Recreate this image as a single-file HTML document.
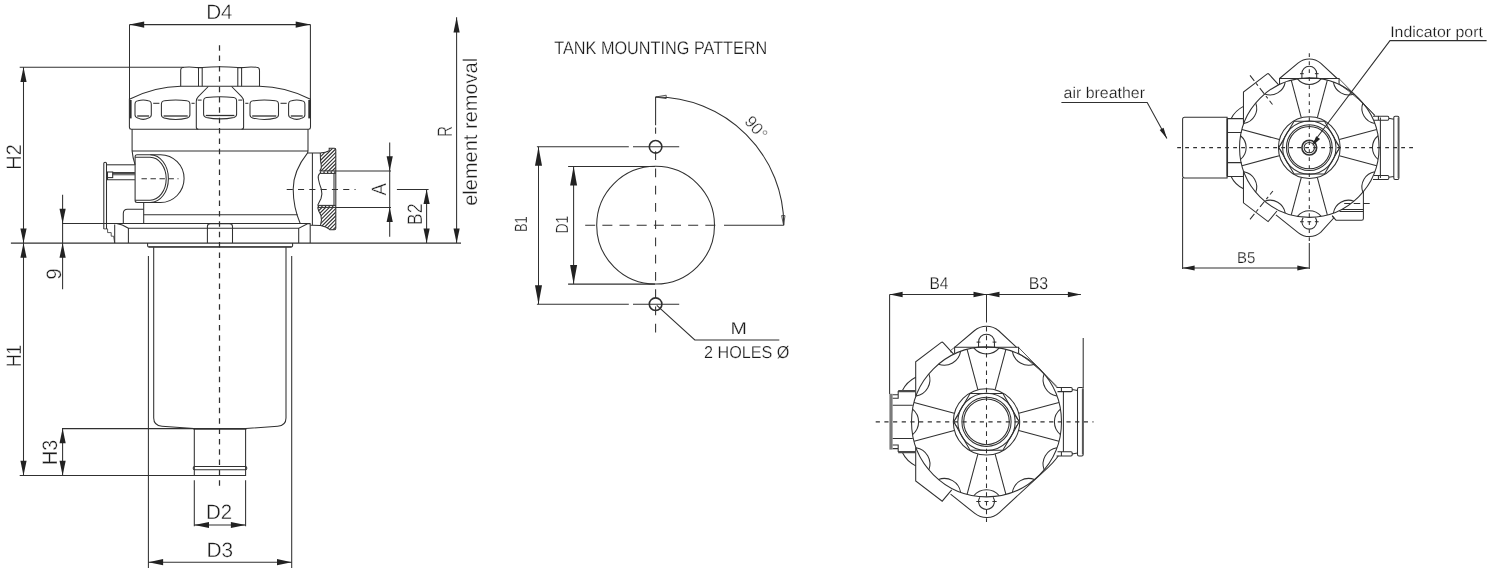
<!DOCTYPE html>
<html lang="en"><head><meta charset="utf-8"><title>Tank top return filter dimensions</title>
<style>
html,body{margin:0;padding:0;background:#fff;}
body{width:1500px;height:575px;overflow:hidden;font-family:"Liberation Sans",sans-serif;}
svg{display:block;filter:grayscale(1);}
svg *{fill:none;stroke:#303030;stroke-width:1.05;}
svg text{fill:#1c1c1c;stroke:#fff;stroke-width:0.36px;font-family:"Liberation Sans",sans-serif;text-rendering:geometricPrecision;}
svg .ar{fill:#222;stroke:none;}
svg .d{stroke-dasharray:5.4 4.9;}
svg .t{stroke-width:0.8;}
svg .k{stroke-width:1.6;}
svg .h{stroke-width:0.7;}
</style></head><body>
<svg width="1500" height="575" viewBox="0 0 1500 575">
<line x1="219.50" y1="45.20" x2="219.50" y2="490.50" style="stroke-dasharray:5.5 4.86;stroke-width:1.25px"/>
<path d="M180.7 86.2 V70.2 Q180.7 67.2 184 67.2 Q190 66.6 196 67.4 L198.5 67.6 H202.2 Q220 65.8 237.8 67.6 H241.6 L244 67.4 Q250 66.6 256.5 67.2 Q259.5 67.2 259.5 70.2 V86.2"/>
<line x1="198.50" y1="67.60" x2="198.50" y2="86.20"/>
<line x1="202.20" y1="67.60" x2="202.20" y2="86.20"/>
<line x1="237.80" y1="67.60" x2="237.80" y2="86.20"/>
<line x1="241.60" y1="67.60" x2="241.60" y2="86.20"/>
<path d="M131.3 129.3 Q129.4 129.3 129.4 127.3 V99.2 Q155 86.6 180.7 86.3 H259.5 Q285.2 86.6 310.5 99.2 V127.3 Q310.5 129.3 308.6 129.3 Z"/>
<line x1="130.50" y1="100.00" x2="130.50" y2="118.40" style="stroke-width:2.2px"/>
<line x1="309.40" y1="100.00" x2="309.40" y2="118.40" style="stroke-width:2.2px"/>
<path d="M208.3 86.5 L198.3 96.6 Q196.3 98.6 196.3 101.5 V127.3 Q196.3 129.3 198.3 129.3 M231.6 86.5 L241.6 96.6 Q243.6 98.6 243.6 101.5 V127.3 Q243.6 129.3 241.6 129.3"/>
<path d="M135.0 104.3 Q135.0 101.1 138.0 100.8 Q143.2 99.2 148.3 100.8 Q151.3 101.1 151.3 104.3 V114.8 Q151.3 117.2 148.7 117.9 Q143.2 120.9 137.6 117.9 Q135.0 117.2 135.0 114.8 Z"/>
<line x1="137.20" y1="116.00" x2="149.10" y2="116.00" style="stroke-width:1.3px"/>
<path d="M161.4 104.3 Q161.4 101.1 164.4 100.8 Q175.7 99.2 186.9 100.8 Q189.9 101.1 189.9 104.3 V114.8 Q189.9 117.2 187.3 117.9 Q175.7 120.9 164.0 117.9 Q161.4 117.2 161.4 114.8 Z"/>
<line x1="163.60" y1="116.00" x2="187.70" y2="116.00" style="stroke-width:1.3px"/>
<path d="M203.6 101.1 Q203.6 97.9 206.6 97.6 Q220.1 96.0 233.6 97.6 Q236.6 97.9 236.6 101.1 V114.3 Q236.6 116.7 234.0 117.4 Q220.1 120.4 206.2 117.4 Q203.6 116.7 203.6 114.3 Z"/>
<line x1="205.80" y1="115.50" x2="234.40" y2="115.50" style="stroke-width:1.3px"/>
<path d="M250.0 104.3 Q250.0 101.1 253.0 100.8 Q264.2 99.2 275.5 100.8 Q278.5 101.1 278.5 104.3 V114.8 Q278.5 117.2 275.9 117.9 Q264.2 120.9 252.6 117.9 Q250.0 117.2 250.0 114.8 Z"/>
<line x1="252.20" y1="116.00" x2="276.30" y2="116.00" style="stroke-width:1.3px"/>
<path d="M288.6 104.3 Q288.6 101.1 291.6 100.8 Q296.8 99.2 301.9 100.8 Q304.9 101.1 304.9 104.3 V114.8 Q304.9 117.2 302.3 117.9 Q296.8 120.9 291.2 117.9 Q288.6 117.2 288.6 114.8 Z"/>
<line x1="290.80" y1="116.00" x2="302.70" y2="116.00" style="stroke-width:1.3px"/>
<line x1="153.20" y1="103.30" x2="159.40" y2="103.30"/>
<line x1="191.50" y1="103.30" x2="194.60" y2="103.30"/>
<line x1="197.70" y1="100.10" x2="201.60" y2="100.10"/>
<line x1="238.30" y1="100.10" x2="242.20" y2="100.10"/>
<line x1="245.30" y1="103.30" x2="248.40" y2="103.30"/>
<line x1="280.50" y1="103.30" x2="286.70" y2="103.30"/>
<line x1="132.10" y1="129.20" x2="132.10" y2="150.90"/>
<line x1="308.00" y1="129.20" x2="308.00" y2="150.90"/>
<line x1="132.10" y1="150.90" x2="308.00" y2="150.90"/>
<path d="M132.1 150.9 Q132.6 157 135.1 164.8"/>
<path d="M308.0 150.9 L307.6 152.9 Q293.2 171 293.2 189 Q293.2 207 300.2 223.5"/>
<path d="M137.1 154.7 H160.5 A23.6 23.9 0 0 1 160.5 202.5 H137.1 Q135.1 202.5 135.1 200.5 V156.7 Q135.1 154.7 137.1 154.7 Z"/>
<path d="M135.1 157.3 H150.0 A16.2 21.45 0 0 1 150.0 200.2 H135.1"/>
<path d="M150.4 154.8 A18.0 23.85 0 0 1 150.4 202.5"/>
<line x1="141.50" y1="178.70" x2="178.50" y2="178.70" style="stroke-dasharray:5.4 3.6"/>
<path d="M103.8 228.9 V163.3 Q103.8 162.3 105.1 162.3 Q106.5 162.3 106.5 163.3 V228.9"/>
<line x1="106.50" y1="164.80" x2="134.90" y2="164.80"/>
<rect x="107.50" y="172.00" width="5.20" height="5.60" rx="0"/>
<line x1="112.70" y1="172.60" x2="134.90" y2="172.60"/>
<line x1="112.70" y1="173.70" x2="134.90" y2="173.70"/>
<line x1="112.70" y1="174.80" x2="134.90" y2="174.80" class="t"/>
<path d="M107.5 177.6 V179.8 H134.9"/>
<line x1="143.70" y1="202.50" x2="143.70" y2="223.50"/>
<path d="M143.7 209.2 H127.5 Q123.3 209.2 123.3 213.5 V223.5"/>
<line x1="143.70" y1="214.80" x2="297.60" y2="214.80"/>
<path d="M103.8 228.9 H107.6 V232.6 H111.2 V236.2 H113.6 L114.7 243.1" class="t"/>
<line x1="62.00" y1="223.50" x2="310.20" y2="223.50"/>
<path d="M114.7 224.5 V243.1 M116.5 223.5 Q122 224.2 128.4 228.2 V243.1 M128.4 228.2 H298.7 M298.7 243.1 V228.2 L307.5 223.8 H310.2 V243.1"/>
<path d="M207.4 243.1 V226.5 Q207.4 223.7 210.4 223.7 H229.5 Q232.5 223.7 232.5 226.5 V243.1"/>
<line x1="10.90" y1="243.10" x2="461.00" y2="243.10"/>
<path d="M147.6 243.1 V245.8 Q147.6 247.1 149 247.1 H291.2 Q292.6 247.1 292.6 245.8 V243.1"/>
<line x1="148.50" y1="246.60" x2="291.70" y2="246.60" class="t"/>
<path d="M153.7 247.3 V418 Q153.7 425.5 162 426.2 L193.9 428.6 M286.0 247.3 V418 Q286.0 425.5 277.7 426.2 L245.8 428.6"/>
<line x1="148.40" y1="256.00" x2="148.40" y2="568.00"/>
<line x1="291.70" y1="256.00" x2="291.70" y2="568.00"/>
<path d="M194.3 428.6 V475.5 H245.6 V428.6"/>
<line x1="193.50" y1="428.90" x2="246.40" y2="428.90" class="k"/>
<rect x="193.20" y="466.40" width="53.60" height="3.40" rx="1.5"/>
<line x1="194.30" y1="480.20" x2="194.30" y2="526.20"/>
<line x1="245.60" y1="480.20" x2="245.60" y2="526.20"/>
<line x1="312.40" y1="152.90" x2="312.40" y2="225.30"/>
<path d="M307.6 152.9 H320.2 Q326 152.6 329.2 150.8 V148.3 H334.3 Q335.8 148.3 335.8 149.8 V228.3 Q335.8 229.8 334.3 229.8 H329.9 L329.2 229.1 Q326.5 227.0 320.5 225.6 L312.4 225.3 L310.4 225.2"/>
<path d="M320.3 152.9 Q320.2 160 321.3 166 Q321.7 169 319.8 170.9 M319.8 173.4 Q317.6 175.5 318.4 179 Q319.3 184 321.3 189 Q322.6 194 321 198.5 Q319 202.5 317.7 205.4 M317.7 207.4 Q318.2 211 320.9 215.2 Q322.2 220 320.5 225.6"/>
<line x1="319.80" y1="170.90" x2="335.80" y2="170.90"/>
<line x1="319.80" y1="173.40" x2="335.80" y2="173.40"/>
<line x1="319.80" y1="172.15" x2="335.80" y2="172.15" style="stroke-width:1.6px;stroke-dasharray:1.3 2.3"/>
<line x1="317.70" y1="205.40" x2="335.80" y2="205.40"/>
<line x1="317.70" y1="207.40" x2="335.80" y2="207.40"/>
<line x1="317.70" y1="206.40" x2="335.80" y2="206.40" style="stroke-width:1.4px;stroke-dasharray:1.3 2.3"/>
<line x1="334.00" y1="173.40" x2="334.00" y2="205.40"/>
<clipPath id="hc1"><path d="M320.3 152.9 Q326 152.6 329.2 150.8 V148.3 H335.8 V170.9 H319.8 Q321.7 169 321.3 166 Q320.2 160 320.3 152.9 Z"/></clipPath>
<clipPath id="hc2"><path d="M317.7 207.4 H335.8 V229.8 H329.9 L329.2 229.1 Q326.5 227.0 320.5 225.6 Q322.2 220 320.9 215.2 Q318.2 211 317.7 207.4 Z"/></clipPath>
<g clip-path="url(#hc1)"><line style="stroke-width:1.15px" x1="249.70" y1="172" x2="275.70" y2="146"/><line style="stroke-width:1.15px" x1="253.40" y1="172" x2="279.40" y2="146"/><line style="stroke-width:1.15px" x1="257.10" y1="172" x2="283.10" y2="146"/><line style="stroke-width:1.15px" x1="260.80" y1="172" x2="286.80" y2="146"/><line style="stroke-width:1.15px" x1="264.50" y1="172" x2="290.50" y2="146"/><line style="stroke-width:1.15px" x1="268.20" y1="172" x2="294.20" y2="146"/><line style="stroke-width:1.15px" x1="271.90" y1="172" x2="297.90" y2="146"/><line style="stroke-width:1.15px" x1="275.60" y1="172" x2="301.60" y2="146"/><line style="stroke-width:1.15px" x1="279.30" y1="172" x2="305.30" y2="146"/><line style="stroke-width:1.15px" x1="283.00" y1="172" x2="309.00" y2="146"/><line style="stroke-width:1.15px" x1="286.70" y1="172" x2="312.70" y2="146"/><line style="stroke-width:1.15px" x1="290.40" y1="172" x2="316.40" y2="146"/><line style="stroke-width:1.15px" x1="294.10" y1="172" x2="320.10" y2="146"/><line style="stroke-width:1.15px" x1="297.80" y1="172" x2="323.80" y2="146"/><line style="stroke-width:1.15px" x1="301.50" y1="172" x2="327.50" y2="146"/><line style="stroke-width:1.15px" x1="305.20" y1="172" x2="331.20" y2="146"/><line style="stroke-width:1.15px" x1="308.90" y1="172" x2="334.90" y2="146"/><line style="stroke-width:1.15px" x1="312.60" y1="172" x2="338.60" y2="146"/><line style="stroke-width:1.15px" x1="316.30" y1="172" x2="342.30" y2="146"/><line style="stroke-width:1.15px" x1="320.00" y1="172" x2="346.00" y2="146"/><line style="stroke-width:1.15px" x1="323.70" y1="172" x2="349.70" y2="146"/><line style="stroke-width:1.15px" x1="327.40" y1="172" x2="353.40" y2="146"/><line style="stroke-width:1.15px" x1="331.10" y1="172" x2="357.10" y2="146"/></g>
<g clip-path="url(#hc2)"><line style="stroke-width:1.15px" x1="249.30" y1="232" x2="275.30" y2="206"/><line style="stroke-width:1.15px" x1="253.00" y1="232" x2="279.00" y2="206"/><line style="stroke-width:1.15px" x1="256.70" y1="232" x2="282.70" y2="206"/><line style="stroke-width:1.15px" x1="260.40" y1="232" x2="286.40" y2="206"/><line style="stroke-width:1.15px" x1="264.10" y1="232" x2="290.10" y2="206"/><line style="stroke-width:1.15px" x1="267.80" y1="232" x2="293.80" y2="206"/><line style="stroke-width:1.15px" x1="271.50" y1="232" x2="297.50" y2="206"/><line style="stroke-width:1.15px" x1="275.20" y1="232" x2="301.20" y2="206"/><line style="stroke-width:1.15px" x1="278.90" y1="232" x2="304.90" y2="206"/><line style="stroke-width:1.15px" x1="282.60" y1="232" x2="308.60" y2="206"/><line style="stroke-width:1.15px" x1="286.30" y1="232" x2="312.30" y2="206"/><line style="stroke-width:1.15px" x1="290.00" y1="232" x2="316.00" y2="206"/><line style="stroke-width:1.15px" x1="293.70" y1="232" x2="319.70" y2="206"/><line style="stroke-width:1.15px" x1="297.40" y1="232" x2="323.40" y2="206"/><line style="stroke-width:1.15px" x1="301.10" y1="232" x2="327.10" y2="206"/><line style="stroke-width:1.15px" x1="304.80" y1="232" x2="330.80" y2="206"/><line style="stroke-width:1.15px" x1="308.50" y1="232" x2="334.50" y2="206"/><line style="stroke-width:1.15px" x1="312.20" y1="232" x2="338.20" y2="206"/><line style="stroke-width:1.15px" x1="315.90" y1="232" x2="341.90" y2="206"/><line style="stroke-width:1.15px" x1="319.60" y1="232" x2="345.60" y2="206"/><line style="stroke-width:1.15px" x1="323.30" y1="232" x2="349.30" y2="206"/><line style="stroke-width:1.15px" x1="327.00" y1="232" x2="353.00" y2="206"/><line style="stroke-width:1.15px" x1="330.70" y1="232" x2="356.70" y2="206"/></g>
<line x1="286.70" y1="189.50" x2="355.60" y2="189.50" style="stroke-dasharray:6.1 5.2"/>
<line x1="129.50" y1="24.60" x2="310.40" y2="24.60"/>
<line x1="129.50" y1="24.60" x2="129.50" y2="99.00"/>
<line x1="310.40" y1="24.60" x2="310.40" y2="99.00"/>
<polygon class="ar" points="129.50,24.60 144.20,21.50 144.20,27.70"/>
<polygon class="ar" points="310.40,24.60 295.70,27.70 295.70,21.50"/>
<text transform="translate(206.15 19.05) scale(0.9897 1)" font-size="20.9" style="stroke-width:0.344px">D4</text>
<line x1="19.70" y1="67.30" x2="184.00" y2="67.30"/>
<line x1="23.50" y1="67.30" x2="23.50" y2="475.50"/>
<polygon class="ar" points="23.50,67.30 26.60,82.00 20.40,82.00"/>
<polygon class="ar" points="23.50,243.10 20.40,228.40 26.60,228.40"/>
<polygon class="ar" points="23.50,243.10 26.60,257.80 20.40,257.80"/>
<polygon class="ar" points="23.50,475.50 20.40,460.80 26.60,460.80"/>
<text transform="translate(21.00 168.10) rotate(-90) scale(0.9528 1) translate(-1.67 0)" font-size="20.9" style="stroke-width:0.357px">H2</text>
<text transform="translate(21.00 365.70) rotate(-90) scale(0.8321 1) translate(-1.67 0)" font-size="20.9" style="stroke-width:0.409px">H1</text>
<line x1="62.60" y1="194.70" x2="62.60" y2="289.20"/>
<polygon class="ar" points="62.60,223.50 59.50,208.80 65.70,208.80"/>
<polygon class="ar" points="62.60,243.10 65.70,257.80 59.50,257.80"/>
<text transform="translate(60.90 278.70) rotate(-90) scale(0.9878 1) translate(-0.94 0)" font-size="20.9" style="stroke-width:0.344px">9</text>
<line x1="62.00" y1="428.60" x2="194.30" y2="428.60"/>
<line x1="19.70" y1="475.50" x2="245.60" y2="475.50"/>
<line x1="62.60" y1="428.60" x2="62.60" y2="475.50"/>
<polygon class="ar" points="62.60,428.60 65.70,443.30 59.50,443.30"/>
<polygon class="ar" points="62.60,475.50 59.50,460.80 65.70,460.80"/>
<text transform="translate(57.40 463.30) rotate(-90) scale(0.9445 1) translate(-1.67 0)" font-size="20.9" style="stroke-width:0.360px">H3</text>
<line x1="194.30" y1="525.00" x2="245.60" y2="525.00"/>
<polygon class="ar" points="194.30,525.00 209.00,521.90 209.00,528.10"/>
<polygon class="ar" points="245.60,525.00 230.90,528.10 230.90,521.90"/>
<text transform="translate(206.06 519.10) scale(0.9819 1)" font-size="20.9" style="stroke-width:0.346px">D2</text>
<line x1="148.40" y1="562.20" x2="291.70" y2="562.20"/>
<polygon class="ar" points="148.40,562.20 163.10,559.10 163.10,565.30"/>
<polygon class="ar" points="291.70,562.20 277.00,565.30 277.00,559.10"/>
<text transform="translate(206.43 556.70) scale(0.9984 1)" font-size="20.9" style="stroke-width:0.341px">D3</text>
<line x1="335.80" y1="170.90" x2="391.00" y2="170.90"/>
<line x1="335.80" y1="207.40" x2="391.00" y2="207.40"/>
<line x1="389.70" y1="142.50" x2="389.70" y2="236.80"/>
<polygon class="ar" points="389.70,170.90 386.60,156.20 392.80,156.20"/>
<polygon class="ar" points="389.70,207.40 392.80,222.10 386.60,222.10"/>
<text transform="translate(386.10 195.40) rotate(-90) scale(0.8935 1) translate(-0.00 0)" font-size="20.7" style="stroke-width:0.381px">A</text>
<line x1="396.90" y1="189.40" x2="428.60" y2="189.40"/>
<line x1="426.60" y1="189.40" x2="426.60" y2="243.10"/>
<polygon class="ar" points="426.60,189.40 429.70,204.10 423.50,204.10"/>
<polygon class="ar" points="426.60,243.10 423.50,228.40 429.70,228.40"/>
<text transform="translate(421.60 223.80) rotate(-90) scale(0.8564 1) translate(-1.67 0)" font-size="20.9" style="stroke-width:0.397px">B2</text>
<line x1="456.60" y1="17.20" x2="456.60" y2="243.10"/>
<polygon class="ar" points="456.60,17.20 459.70,32.60 453.50,32.60"/>
<polygon class="ar" points="456.60,243.10 453.50,228.40 459.70,228.40"/>
<text transform="translate(452.40 135.90) rotate(-90) scale(0.7287 1) translate(-1.67 0)" font-size="20.9" style="stroke-width:0.467px">R</text>
<text transform="translate(476.50 204.90) rotate(-90) scale(1.0057 1) translate(-0.85 0)" font-size="19.9" style="stroke-width:0.338px">element removal</text>
<text transform="translate(554.27 53.76) scale(0.8935 1)" font-size="18.2" style="stroke-width:0.246px">TANK MOUNTING PATTERN</text>
<circle cx="655.60" cy="225.20" r="58.90"/>
<circle cx="655.60" cy="146.80" r="6.30" class="k"/>
<circle cx="655.60" cy="304.20" r="6.30" class="k"/>
<line x1="655.60" y1="97.00" x2="655.60" y2="125.20"/>
<line x1="655.60" y1="127.60" x2="655.60" y2="133.80"/>
<line x1="655.60" y1="151.20" x2="655.60" y2="333.30" style="stroke-dasharray:8.8 8.46"/>
<line x1="585.20" y1="225.20" x2="718.00" y2="225.20" style="stroke-dasharray:10 7.16"/>
<line x1="724.00" y1="225.20" x2="783.60" y2="225.20"/>
<path d="M655.6 97 A128.2 128.2 0 0 1 783.8 225.2"/>
<path d="M655.6 97 L666.2 95.2 L666.2 98.6 Z" class="t"/>
<path d="M783.6 225.2 L781.6 215.6 L785.0 215.6 Z" class="t"/>
<text x="751.90" y="131.40" font-size="16.6" text-anchor="middle" transform="rotate(50 751.90 131.40)">90°</text>
<line x1="536.90" y1="146.80" x2="628.80" y2="146.80"/>
<line x1="633.00" y1="146.80" x2="679.20" y2="146.80"/>
<line x1="536.90" y1="304.20" x2="628.80" y2="304.20"/>
<line x1="633.00" y1="304.20" x2="679.20" y2="304.20"/>
<line x1="538.50" y1="146.80" x2="538.50" y2="304.20"/>
<polygon class="ar" points="538.50,146.80 542.00,165.80 535.00,165.80"/>
<polygon class="ar" points="538.50,304.20 535.00,285.20 542.00,285.20"/>
<text transform="translate(527.10 231.00) rotate(-90) scale(0.7275 1) translate(-1.42 0)" font-size="17.7" style="stroke-width:0.302px">B1</text>
<line x1="568.10" y1="166.50" x2="655.00" y2="166.50"/>
<line x1="568.10" y1="284.10" x2="655.00" y2="284.10"/>
<line x1="573.60" y1="166.50" x2="573.60" y2="284.10"/>
<polygon class="ar" points="573.60,166.50 577.10,185.50 570.10,185.50"/>
<polygon class="ar" points="573.60,284.10 570.10,265.10 577.10,265.10"/>
<text transform="translate(568.10 232.50) rotate(-90) scale(0.7955 1) translate(-1.41 0)" font-size="17.6" style="stroke-width:0.277px">D1</text>
<path d="M656.8 305.3 L694.8 339.9 H779.3"/>
<text transform="translate(730.53 333.90) scale(1.1753 1)" font-size="16.7" style="stroke-width:0.187px">M</text>
<text transform="translate(703.99 357.50) scale(0.9419 1)" font-size="17.2" style="stroke-width:0.234px">2 HOLES Ø</text>
<circle cx="986.50" cy="421.85" r="75.00"/>
<path d="M1060.41 434.62 A16.57 16.57 0 0 1 1060.41 409.08"/>
<path d="M1056.89 395.95 A16.57 16.57 0 0 1 1044.12 373.84"/>
<path d="M1034.51 364.23 A16.57 16.57 0 0 1 1012.40 351.46"/>
<path d="M999.27 347.94 A16.57 16.57 0 0 1 973.73 347.94"/>
<path d="M960.60 351.46 A16.57 16.57 0 0 1 938.49 364.23"/>
<path d="M928.88 373.84 A16.57 16.57 0 0 1 916.11 395.95"/>
<path d="M912.59 409.08 A16.57 16.57 0 0 1 912.59 434.62"/>
<path d="M916.11 447.75 A16.57 16.57 0 0 1 928.88 469.86"/>
<path d="M938.49 479.47 A16.57 16.57 0 0 1 960.60 492.24"/>
<path d="M973.73 495.76 A16.57 16.57 0 0 1 999.27 495.76"/>
<path d="M1012.40 492.24 A16.57 16.57 0 0 1 1034.51 479.47"/>
<path d="M1044.12 469.86 A16.57 16.57 0 0 1 1056.89 447.75"/>
<line x1="1018.76" y1="413.21" x2="1058.94" y2="402.44"/>
<line x1="995.14" y1="389.59" x2="1005.91" y2="349.41"/>
<line x1="977.86" y1="389.59" x2="967.09" y2="349.41"/>
<line x1="954.24" y1="413.21" x2="914.06" y2="402.44"/>
<line x1="954.24" y1="430.49" x2="914.06" y2="441.26"/>
<line x1="977.86" y1="454.11" x2="967.09" y2="494.29"/>
<line x1="995.14" y1="454.11" x2="1005.91" y2="494.29"/>
<line x1="1018.76" y1="430.49" x2="1058.94" y2="441.26"/>
<circle cx="986.50" cy="421.85" r="33.20"/>
<circle cx="986.50" cy="421.85" r="28.70"/>
<path d="M1019.30 421.85 L1002.90 393.44 L970.10 393.44 L953.70 421.85 L970.10 450.26 L1002.90 450.26 Z"/>
<circle cx="986.50" cy="421.85" r="24.60"/>
<circle cx="986.50" cy="421.85" r="22.80"/>
<path d="M953.70 421.85 L957.90 415.65 M953.70 421.85 L957.90 428.05" class="t"/>
<path d="M1019.30 421.85 L1015.10 415.65 M1019.30 421.85 L1015.10 428.05" class="t"/>
<line x1="875.70" y1="421.85" x2="1093.50" y2="421.85" style="stroke-dasharray:4.2 4.47"/>
<line x1="986.50" y1="294.50" x2="986.50" y2="322.50"/>
<line x1="986.50" y1="326.90" x2="986.50" y2="522.00" style="stroke-dasharray:4.6 4.1"/>
<path d="M954.6 353.4 V347.3 H1018.6 V353.4"/>
<path d="M954.6 347.4 L974.3 330.75 A19 19 0 0 1 998.7 330.75 L1016.6 347.4"/>
<path d="M978.55 347.3 V342.1 A7.95 7.95 0 0 1 994.45 342.1 V347.3"/>
<line x1="976.60" y1="342.10" x2="980.40" y2="342.10"/>
<line x1="992.60" y1="342.10" x2="996.40" y2="342.10"/>
<path d="M1018.6 347.5 L1057 386.6 M1018.6 353.2 Q1040 368 1057 387.6" class="t"/>
<path d="M954.6 347.3 L950.4 350.6" class="t"/>
<path d="M950.6 494.2 L974.8 513.45 A19 19 0 0 0 999.3 512.6 L1043.6 471.6 Q1053 463.5 1058.4 455.8"/>
<path d="M979.8 497.2 A7.95 7.95 0 1 0 993.2 497.2"/>
<line x1="976.30" y1="501.50" x2="980.60" y2="501.50"/>
<line x1="992.40" y1="501.50" x2="996.70" y2="501.50"/>
<line x1="984.50" y1="501.50" x2="988.50" y2="501.50"/>
<path d="M915.7 396.4 V361.8 L941.3 342.4 Q942.3 341.7 943.1 342.7 L953.6 354.2"/>
<path d="M915.7 447.3 V481.0 L942.2 501.2 L951.7 489.8"/>
<path d="M950.5 350.5 L951.2 352.8" class="t"/>
<path d="M902.4 390.6 Q906.5 382 915.7 377.3 M902.4 452.6 Q906.5 461.2 915.7 465.9"/>
<line x1="889.60" y1="294.50" x2="889.60" y2="394.00"/>
<line x1="891.00" y1="393.80" x2="891.00" y2="449.60" style="stroke:#7a7a7a;stroke-width:3.2px"/>
<path d="M898.2 391.2 H915.7 M898.2 452.2 H915.7" style="stroke-width:2.2px;stroke:#4a4a4a"/>
<path d="M892.7 394.7 H898.2 V391 M892.7 398.3 H898.2 V394.7 M892.7 405.3 H912.8 M892.7 438.4 H912.8 M892.7 448.6 H898.2 V452 M892.7 444.9 H898.2 V448.6"/>
<line x1="1083.20" y1="338.00" x2="1083.20" y2="388.00"/>
<path d="M1079 387.4 H1081.7 Q1083.2 387.4 1083.2 389 V454.4 Q1083.2 456 1081.7 456 H1079 Q1077.5 456 1077.5 454.4 V389 Q1077.5 387.4 1079 387.4 Z"/>
<line x1="1082.40" y1="389.00" x2="1082.40" y2="454.40" class="t"/>
<line x1="1063.40" y1="391.60" x2="1063.40" y2="451.80"/>
<path d="M1056.5 387.4 H1071 Q1072.2 387.4 1072.2 388.6 V390.4 Q1072.2 391.6 1071 391.6 H1057.5 M1061.4 387.4 V391.6 M1072.2 389.5 L1077.5 390.4"/>
<path d="M1056.5 456 H1071 Q1072.2 456 1072.2 454.8 V453 Q1072.2 451.8 1071 451.8 H1057.5 M1061.4 456 V451.8 M1072.2 453.9 L1077.5 453"/>
<line x1="889.60" y1="294.50" x2="1080.90" y2="294.50"/>
<polygon class="ar" points="889.60,294.50 902.60,291.80 902.60,297.20"/>
<polygon class="ar" points="986.50,294.50 973.50,297.20 973.50,291.80"/>
<polygon class="ar" points="986.50,294.50 999.50,291.80 999.50,297.20"/>
<polygon class="ar" points="1080.90,294.50 1067.90,297.20 1067.90,291.80"/>
<text transform="translate(929.46 288.80) scale(0.9074 1)" font-size="17.1" style="stroke-width:0.242px">B4</text>
<text transform="translate(1028.63 288.80) scale(0.9304 1)" font-size="17.1" style="stroke-width:0.236px">B3</text>
<circle cx="1309.30" cy="147.60" r="69.75"/>
<path d="M1378.03 159.47 A15.41 15.41 0 0 1 1378.03 135.73"/>
<path d="M1374.76 123.52 A15.41 15.41 0 0 1 1362.89 102.95"/>
<path d="M1353.95 94.01 A15.41 15.41 0 0 1 1333.38 82.14"/>
<path d="M1321.17 78.87 A15.41 15.41 0 0 1 1297.43 78.87"/>
<path d="M1285.22 82.14 A15.41 15.41 0 0 1 1264.65 94.01"/>
<path d="M1255.71 102.95 A15.41 15.41 0 0 1 1243.84 123.52"/>
<path d="M1240.57 135.73 A15.41 15.41 0 0 1 1240.57 159.47"/>
<path d="M1243.84 171.68 A15.41 15.41 0 0 1 1255.71 192.25"/>
<path d="M1264.65 201.19 A15.41 15.41 0 0 1 1285.22 213.06"/>
<path d="M1297.43 216.33 A15.41 15.41 0 0 1 1321.17 216.33"/>
<path d="M1333.38 213.06 A15.41 15.41 0 0 1 1353.95 201.19"/>
<path d="M1362.89 192.25 A15.41 15.41 0 0 1 1374.76 171.68"/>
<line x1="1339.30" y1="139.56" x2="1376.67" y2="129.55"/>
<line x1="1317.34" y1="117.60" x2="1327.35" y2="80.23"/>
<line x1="1301.26" y1="117.60" x2="1291.25" y2="80.23"/>
<line x1="1279.30" y1="139.56" x2="1241.93" y2="129.55"/>
<line x1="1279.30" y1="155.64" x2="1241.93" y2="165.65"/>
<line x1="1301.26" y1="177.60" x2="1291.25" y2="214.97"/>
<line x1="1317.34" y1="177.60" x2="1327.35" y2="214.97"/>
<line x1="1339.30" y1="155.64" x2="1376.67" y2="165.65"/>
<circle cx="1309.30" cy="147.60" r="30.88"/>
<circle cx="1309.30" cy="147.60" r="26.69"/>
<path d="M1339.80 147.60 L1324.55 121.18 L1294.05 121.18 L1278.80 147.60 L1294.05 174.02 L1324.55 174.02 Z"/>
<circle cx="1309.30" cy="147.60" r="22.88"/>
<circle cx="1309.30" cy="147.60" r="21.20"/>
<path d="M1278.80 147.60 L1282.70 141.83 M1278.80 147.60 L1282.70 153.37" class="t"/>
<path d="M1339.80 147.60 L1335.90 141.83 M1339.80 147.60 L1335.90 153.37" class="t"/>
<line x1="1177.20" y1="147.60" x2="1414.00" y2="147.60" style="stroke-dasharray:3.8 4.2"/>
<line x1="1309.30" y1="53.20" x2="1309.30" y2="244.00" style="stroke-dasharray:3.8 4.2"/>
<line x1="1309.30" y1="243.00" x2="1309.30" y2="269.00"/>
<circle cx="1309.30" cy="147.60" r="7.40" class="k"/>
<circle cx="1309.30" cy="147.60" r="5.20"/>
<path d="M1279.54 84.17 V78.50 H1339.06 V84.17"/>
<path d="M1279.54 78.50 L1297.95 63.06 A17.67 17.67 0 0 1 1320.65 63.06 L1337.20 78.50"/>
<path d="M1301.91 78.50 V73.66 A7.39 7.39 0 0 1 1316.69 73.66 V78.50"/>
<line x1="1300.00" y1="73.66" x2="1303.72" y2="73.66"/>
<line x1="1314.88" y1="73.66" x2="1318.60" y2="73.66"/>
<path d="M1339.06 78.69 L1374.87 115.05 M1339.06 83.99 Q1359.06 97.84 1374.87 115.98" class="t"/>
<path d="M1275.91 214.93 L1298.42 232.79 A17.67 17.67 0 0 0 1320.65 232.42 L1333.94 217.81 L1332.18 215.49"/>
<path d="M1303.16 217.63 A7.39 7.39 0 1 0 1315.44 217.63"/>
<line x1="1300.00" y1="221.72" x2="1303.72" y2="221.72"/>
<line x1="1314.88" y1="221.72" x2="1318.60" y2="221.72"/>
<line x1="1307.44" y1="221.72" x2="1311.16" y2="221.72"/>
<path d="M1243.46 124.16 V91.99 L1267.26 73.94 Q1268.19 73.29 1268.94 74.22 L1278.70 84.92"/>
<path d="M1243.46 171.04 V202.84 L1268.10 221.63 L1276.94 211.03"/>
<path d="M1231.09 118.77 Q1234.90 110.77 1243.46 106.40 M1231.09 176.43 Q1234.90 184.43 1243.46 188.80"/>
<line x1="1250.00" y1="75.40" x2="1272.50" y2="104.50" style="stroke-dasharray:7 3 3 3"/>
<line x1="1250.00" y1="219.40" x2="1272.90" y2="191.00" style="stroke-dasharray:7 3 3 3"/>
<path d="M1184.6 117.3 H1227.1 V177.9 H1184.6 Q1182.6 177.9 1182.6 175.9 V119.3 Q1182.6 117.3 1184.6 117.3 Z"/>
<line x1="1227.30" y1="118.60" x2="1227.30" y2="176.40" style="stroke-width:1.5px"/>
<path d="M1227.1 118.6 H1243.5 M1227.1 132.4 H1241.5 M1227.1 162.6 H1241.5 M1227.1 176.4 H1243.5"/>
<path d="M1395.2 116.2 H1397.5 Q1398.9 116.2 1398.9 117.6 V178 Q1398.9 179.4 1397.5 179.4 H1395.2 Q1393.8 179.4 1393.8 178 V117.6 Q1393.8 116.2 1395.2 116.2 Z"/>
<line x1="1398.10" y1="117.60" x2="1398.10" y2="178.00" class="t"/>
<line x1="1380.40" y1="117.60" x2="1380.40" y2="178.00"/>
<path d="M1373 116.2 H1387.6 Q1388.8 116.2 1388.8 117.4 V119 Q1388.8 120.2 1387.6 120.2 H1374 M1378.4 116.2 V120.2 M1388.8 118.3 L1393.8 119.2"/>
<path d="M1373 179.4 H1387.6 Q1388.8 179.4 1388.8 178.2 V176.6 Q1388.8 175.4 1387.6 175.4 H1374 M1378.4 179.4 V175.4 M1388.8 177.3 L1393.8 176.4"/>
<path d="M1363.4 191.5 V218.4 Q1363.4 220.2 1361.6 220.2 H1336 L1332.2 216.1"/>
<path d="M1341.5 209.5 H1363.3 M1339.5 211.4 H1363.3"/>
<line x1="1344.20" y1="203.40" x2="1372.00" y2="203.40" style="stroke-dasharray:6.5 3"/>
<line x1="1182.60" y1="177.90" x2="1182.60" y2="269.00"/>
<line x1="1182.60" y1="268.00" x2="1309.30" y2="268.00"/>
<polygon class="ar" points="1182.60,268.00 1194.60,265.50 1194.60,270.50"/>
<polygon class="ar" points="1309.30,268.00 1297.30,270.50 1297.30,265.50"/>
<text transform="translate(1236.90 262.95) scale(0.9413 1)" font-size="15.9" style="stroke-width:0.234px">B5</text>
<text transform="translate(1063.62 97.70) scale(1.0196 1)" font-size="15.6" style="stroke-width:0.216px">air breather</text>
<path d="M1061.4 102.5 H1147.2 L1166.9 138.5"/>
<polygon class="ar" points="1166.90,138.50 1159.69,129.91 1163.55,127.79"/>
<text transform="translate(1390.17 36.70) scale(1.0324 1)" font-size="15.4" style="stroke-width:0.213px">Indicator port</text>
<path d="M1486.6 40.6 H1390 L1313 143"/>
<polygon class="ar" points="1312.40,145.80 1316.17,136.23 1320.10,138.99"/>
</svg>
</body></html>
